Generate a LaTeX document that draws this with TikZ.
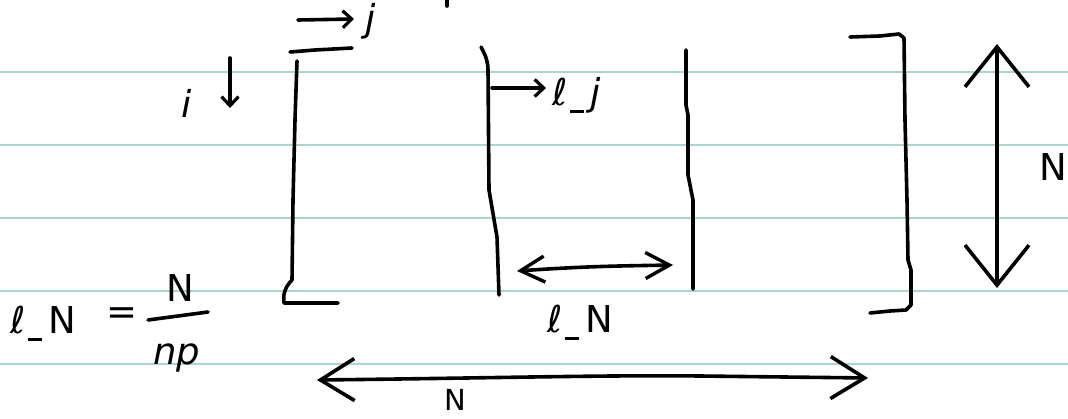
\documentclass[tikz,border=0pt]{standalone}
\usepackage{fontspec}
\setmainfont{DejaVu Sans}
\usetikzlibrary{arrows.meta}
\tikzset{
  tipS/.tip={Straight Barb[length=9pt,width=17pt,line width=3.2pt]},
  tipM/.tip={Straight Barb[length=24pt,width=26pt,line width=3.4pt]},
  tipB/.tip={Straight Barb[length=34pt,width=42pt,line width=3.6pt]},
  tipH/.tip={Straight Barb[length=40pt,width=64pt,line width=3.6pt]}}
\newcommand{\usc}{\hspace{3pt}\rule[-7pt]{14pt}{3pt}\hspace{6pt}}
\begin{document}
\begin{tikzpicture}[x=1pt,y=-1pt,
  ink/.style={line width=3.6pt,line cap=round,line join=round,black},
  rule/.style={line width=1.4pt,color=ruled},
  lbl/.style={inner sep=0pt,font=\fontsize{37}{40}\selectfont}]
\definecolor{ruled}{RGB}{170,212,208}
\fill[white] (0,0) rectangle (1068,419);
\useasboundingbox (0,0) rectangle (1068,419);
% ruled lines
\foreach \y in {72,145,218,291,364} \draw[rule] (0,\y) -- (1068,\y);
% small tick at top
\draw[ink] (447,0) -- (447,6);
% left bracket
\draw[ink] (290,52) -- (315,50) -- (352,48);
\draw[ink] (297,61) -- (295,120) -- (293,200) -- (292,280) .. controls (284,288) and (283,296) .. (284,303) -- (320,303) -- (338,303);
% j arrow
\coordinate (j0) at (298,20); \coordinate (j1) at (354,19);
\draw[ink,-{tipS}] (j0) -- (j1);
\node[lbl,anchor=base] (jlab) at (371,32) {\itshape j};
% i arrow
\node[lbl,anchor=base] (ilab) at (187,118) {\itshape i};
\coordinate (i0) at (230,58); \coordinate (i1) at (230,108);
\draw[ink,-{tipS}] (i0) -- (i1);
% middle left line
\draw[ink] (481,47) .. controls (486,56) and (488,62) .. (488,70) -- (489,190) -- (497,237) -- (499,295);
% l_j arrow
\coordinate (lj0) at (492,88); \coordinate (lj1) at (546,88);
\draw[ink,-{tipS}] (lj0) -- (lj1);
\node[lbl,anchor=base west] (ljlab) at (552,106) {ℓ\usc\itshape j};
% middle right line
\draw[ink] (686,50) -- (686,105) -- (688,115) -- (688,175) -- (693,200) -- (693,289);
% l_N double arrow
\coordinate (ln0) at (517,271); \coordinate (ln1) at (673,265);
\draw[ink,{tipM}-{tipM}] (ln0) .. controls (590,266) and (620,266) .. (ln1);
\node[lbl,anchor=base west] (lnlab) at (547,333) {ℓ\usc N};
% right bracket
\draw[ink] (850,37) -- (880,36) -- (899,34) -- (904,38) -- (905,120) -- (907,200) -- (908,260) -- (911,270) -- (911,305) -- (906,310) -- (890,311) -- (870,313);
% vertical N arrow
\coordinate (v0) at (997,44); \coordinate (v1) at (997,288);
\draw[ink,{tipH}-{tipH}] (v0) -- (v1);
\node[lbl,anchor=base west] (vlab) at (1039,181) {N};
% bottom N arrow
\coordinate (b0) at (317,380); \coordinate (b1) at (868,378);
\draw[ink,{tipB}-{tipB}] (b0) .. controls (500,378) and (600,375) .. (700,376) -- (b1);
\node[lbl,anchor=base,font=\fontsize{29}{32}\selectfont] (blab) at (455,410) {N};
% l_N = N / np
\node[lbl,anchor=base west] (formL) at (10,334) {ℓ\usc N};
\node[lbl] (eq) at (122,316) {=};
\node[lbl,anchor=base] (fracN) at (180,302) {N};
\coordinate (bar0) at (148,320); \coordinate (bar1) at (208,312);
\draw[ink] (bar0) -- (bar1);
\node[lbl,anchor=base] (fracD) at (177,365) {\itshape np};
\end{tikzpicture}
\end{document}
